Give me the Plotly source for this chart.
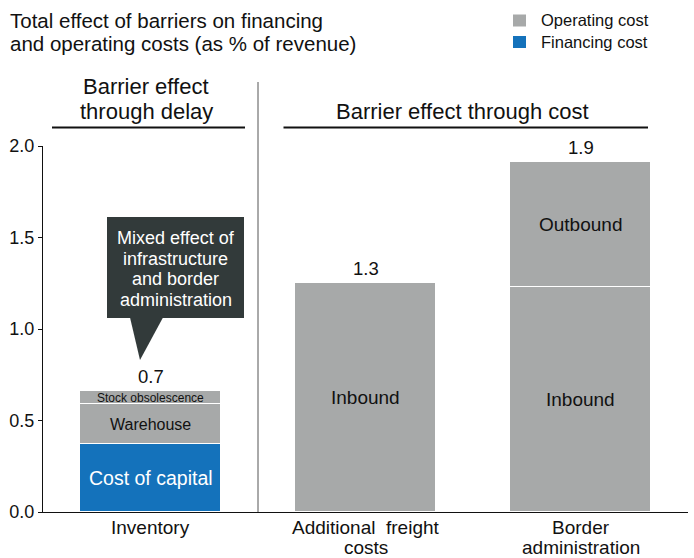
import plotly.graph_objects as go

# ---------------- data ----------------
categories = ["Inventory", "Additional  freight<br>costs", "Border<br>administration"]
cost_of_capital = [0.37, 0, 0]
warehouse = [0.22, 0, 0]
stock_obsolescence = [0.07, 0, 0]
inbound = [0, 1.25, 1.23]
outbound = [0, 0, 0.68]
total_labels = ["0.7", "1.3", "1.9"]
y_tick_vals = [0.0, 0.5, 1.0, 1.5, 2.0]
y_tick_text = ["0.0", "0.5", "1.0", "1.5", "2.0"]
legend_labels = ["Operating cost", "Financing cost"]
title_lines = ["Total effect of barriers on financing", "and operating costs (as % of revenue)"]
header_delay = ["Barrier effect", "through delay"]
header_cost = "Barrier effect through cost"
callout_lines = ["Mixed effect of", "infrastructure", "and border", "administration"]

# ---------------- style ----------------
GRAY = "#a7a9a9"
BLUE = "#1472bb"
DARK = "#323a3a"
TXT = "#111111"
FONT = "Liberation Sans, Arial, sans-serif"

W, H = 694, 558
ML, MR, MT, MB = 43, 6, 146, 46
PW = W - ML - MR
PH = H - MT - MB


def px_x(px):
    return (px - ML) / PW


def px_y(py):
    return (H - MB - py) / PH


x = list(range(len(categories)))
bw = 0.66
line = dict(color="white", width=1.5)

fig = go.Figure()
fig.add_bar(x=x, y=cost_of_capital, marker=dict(color=BLUE, line=line), width=bw, hoverinfo="skip")
fig.add_bar(x=x, y=warehouse, marker=dict(color=GRAY, line=line), width=bw, hoverinfo="skip")
fig.add_bar(x=x, y=stock_obsolescence, marker=dict(color=GRAY, line=line), width=bw, hoverinfo="skip")
fig.add_bar(x=x, y=inbound, marker=dict(color=GRAY, line=line), width=bw, hoverinfo="skip")
fig.add_bar(x=x, y=outbound, marker=dict(color=GRAY, line=line), width=bw, hoverinfo="skip")

ann = []
shapes = []


def seg(xi, y, text, size, color=TXT):
    ann.append(dict(x=xi, y=y, xref="x", yref="y", text=text, showarrow=False,
                    font=dict(family=FONT, size=size, color=color), xanchor="center", yanchor="middle"))


seg(0, cost_of_capital[0] / 2, "Cost of capital", 19.5, "white")
seg(0, cost_of_capital[0] + warehouse[0] / 2, "Warehouse", 16)
seg(0, cost_of_capital[0] + warehouse[0] + stock_obsolescence[0] / 2, "Stock obsolescence", 12)
seg(1, inbound[1] / 2, "Inbound", 19)
seg(2, inbound[2] / 2, "Inbound", 19)
seg(2, inbound[2] + outbound[2] / 2, "Outbound", 19)

# totals
for i in x:
    tot = cost_of_capital[i] + warehouse[i] + stock_obsolescence[i] + inbound[i] + outbound[i]
    ann.append(dict(x=i, y=tot, xref="x", yref="y", text=total_labels[i], showarrow=False,
                    font=dict(family=FONT, size=18.5, color=TXT), xanchor="center", yanchor="bottom", yshift=2))

# category labels (below axis)
for i, c in enumerate(categories):
    for j, ln in enumerate(c.split("<br>")):
        ann.append(dict(x=i, y=px_y(527 + 20 * j), xref="x", yref="paper", text=ln, showarrow=False,
                        font=dict(family=FONT, size=19, color=TXT), xanchor="center", yanchor="middle"))

# title
for j, ln in enumerate(title_lines):
    ann.append(dict(x=px_x(8), y=px_y(21 + 22.5 * j), xref="paper", yref="paper", text=ln, showarrow=False,
                    font=dict(family=FONT, size=20.5, color=TXT), xanchor="left", yanchor="middle"))

# legend
leg_cols = [GRAY, BLUE]
leg_y = [20.5, 42]
for lab, col, yy in zip(legend_labels, leg_cols, leg_y):
    shapes.append(dict(type="rect", xref="paper", yref="paper", x0=px_x(513), x1=px_x(526),
                       y0=px_y(yy + 6), y1=px_y(yy - 6), fillcolor=col, line=dict(width=0)))
    ann.append(dict(x=px_x(539), y=px_y(yy), xref="paper", yref="paper", text=lab, showarrow=False,
                    font=dict(family=FONT, size=16.5, color=TXT), xanchor="left", yanchor="middle"))

# headers
for j, ln in enumerate(header_delay):
    ann.append(dict(x=px_x(146), y=px_y(87 + 25 * j), xref="paper", yref="paper", text=ln, showarrow=False,
                    font=dict(family=FONT, size=22, color=TXT), xanchor="center", yanchor="middle"))
ann.append(dict(x=px_x(462), y=px_y(111), xref="paper", yref="paper", text=header_cost, showarrow=False,
                font=dict(family=FONT, size=22, color=TXT), xanchor="center", yanchor="middle"))
shapes.append(dict(type="line", xref="paper", yref="paper", x0=px_x(52), x1=px_x(245),
                   y0=px_y(127.5), y1=px_y(127.5), line=dict(color=TXT, width=2)))
shapes.append(dict(type="line", xref="paper", yref="paper", x0=px_x(283.5), x1=px_x(648),
                   y0=px_y(127.5), y1=px_y(127.5), line=dict(color=TXT, width=2)))

# separator
shapes.append(dict(type="line", xref="x", yref="paper", x0=0.5, x1=0.5, y0=0, y1=px_y(82),
                   line=dict(color="#555555", width=1)))

# callout
bx0, bx1, by0, by1 = px_x(107), px_x(244), px_y(318), px_y(217)
shapes.append(dict(type="rect", xref="paper", yref="paper", x0=bx0, x1=bx1, y0=by0, y1=by1,
                   fillcolor=DARK, line=dict(width=0)))
shapes.append(dict(type="path", xref="paper", yref="paper",
                   path=f"M {px_x(130)},{px_y(317.5)} L {px_x(163)},{px_y(317.5)} L {px_x(140)},{px_y(360)} Z",
                   fillcolor=DARK, line=dict(width=0)))
for j, ln in enumerate(callout_lines):
    ann.append(dict(x=px_x(175.5), y=px_y(238 + 20.5 * j), xref="paper", yref="paper", text=ln,
                    showarrow=False, font=dict(family=FONT, size=18, color="white"),
                    xanchor="center", yanchor="middle"))

fig.update_layout(
    width=W, height=H,
    margin=dict(l=ML, r=MR, t=MT, b=MB, pad=0),
    barmode="stack", bargap=0,
    showlegend=False,
    plot_bgcolor="white", paper_bgcolor="white",
    font=dict(family=FONT, size=18, color=TXT),
    annotations=ann, shapes=shapes,
)
fig.update_xaxes(range=[-0.5, 2.5], showticklabels=False, ticks="", showgrid=False, zeroline=False,
                 showline=True, linecolor=TXT, linewidth=1)
fig.update_yaxes(range=[0, 2.0], tickvals=y_tick_vals, ticktext=y_tick_text, ticks="outside", ticklen=4,
                 tickcolor=TXT, showgrid=False, zeroline=False, showline=True, linecolor=TXT, linewidth=1,
                 tickfont=dict(family=FONT, size=18, color=TXT))

fig.write_html("out.html", config={"displayModeBar": False},
               post_script="document.body.style.margin='0';document.body.style.overflow='hidden';")
